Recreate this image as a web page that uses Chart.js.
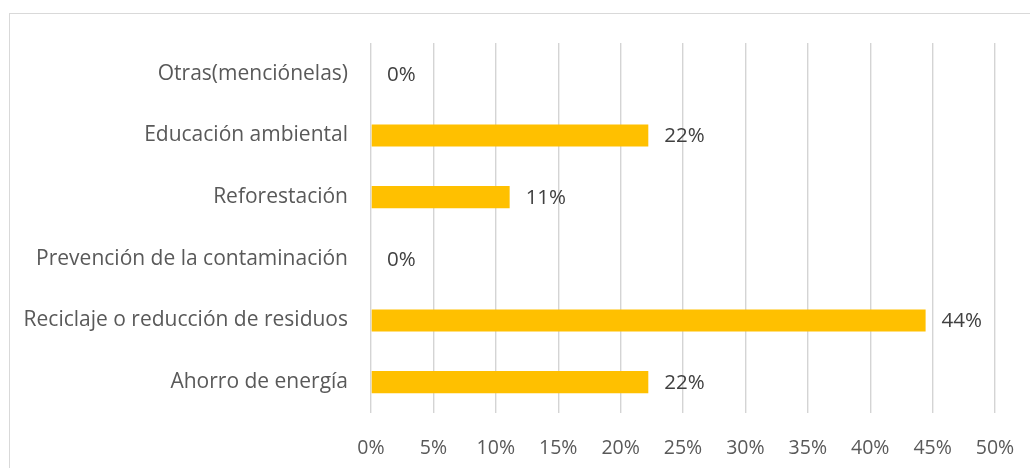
<!DOCTYPE html>
<html>
<head>
<meta charset="utf-8">
<script src="https://cdn.jsdelivr.net/npm/chart.js@4"></script>
<style>
    html, body { margin: 0; padding: 0; overflow: hidden; background: #fff; }
    #frame {
        position: absolute; left: 9px; top: 13px;
        width: 1100px; height: 500px;
        border: 1px solid #d9d9d9;
    }
    #wrap { position: absolute; left: 0; top: 0; width: 1030px; height: 468px; }
</style>
</head>
<body>
<div id="frame"></div>
<div id="wrap"><canvas id="chart"></canvas></div>
<script>
// 类别（自上而下）
const categories = [
    'Otras(menciónelas)',
    'Educación ambiental',
    'Reforestación',
    'Prevención de la contaminación',
    'Reciclaje o reducción de residuos',
    'Ahorro de energía'
];
// 比例值
const values = [0, 0.2222, 0.1111, 0, 0.4444, 0.2222];
// 横轴刻度
const xTicks = [0, 0.05, 0.10, 0.15, 0.20, 0.25, 0.30, 0.35, 0.40, 0.45, 0.50];

const FONT = '"Open Sans", "Liberation Sans", sans-serif';

// 数据标签插件
const barLabels = {
    id: 'barLabels',
    afterDatasetsDraw(chart) {
        const ctx = chart.ctx;
        const meta = chart.getDatasetMeta(0);
        ctx.save();
        ctx.font = '20.5px ' + FONT;
        ctx.fillStyle = '#404040';
        ctx.textAlign = 'left';
        ctx.textBaseline = 'middle';
        meta.data.forEach(function(bar, i) {
            ctx.fillText(Math.round(values[i] * 100) + '%', bar.x + 16, bar.y + 1);
        });
        ctx.restore();
    }
};

new Chart(document.getElementById('chart'), {
    type: 'bar',
    data: {
        labels: categories,
        datasets: [{
            data: values,
            backgroundColor: '#FFC000',
            borderWidth: 0,
            categoryPercentage: 1,
            barPercentage: 0.36
        }]
    },
    plugins: [barLabels],
    options: {
        indexAxis: 'y',
        responsive: true,
        maintainAspectRatio: false,
        animation: false,
        layout: { padding: { top: 43, right: 35, left: 0, bottom: 0 } },
        plugins: {
            legend: { display: false },
            tooltip: { enabled: false }
        },
        scales: {
            x: {
                min: 0,
                max: 0.5,
                afterBuildTicks: function(scale) {
                    scale.ticks = xTicks.map(function(v) { return { value: v }; });
                },
                afterFit: function(scale) {
                    scale.height = 55;
                    scale.paddingLeft = 0;
                    scale.paddingRight = 0;
                },
                grid: { color: '#d4d4d4', lineWidth: 1.4, drawTicks: false },
                border: { display: false },
                ticks: {
                    padding: 24,
                    color: '#595959',
                    font: { family: FONT, size: 19.5 },
                    callback: function(value) { return Math.round(value * 100) + '%'; }
                }
            },
            y: {
                afterFit: function(scale) {
                    scale.width = 371;
                    scale.paddingTop = 0;
                    scale.paddingBottom = 0;
                },
                grid: { display: false },
                border: { display: false },
                ticks: {
                    padding: 15,
                    color: '#595959',
                    font: { family: FONT, size: 21 }
                }
            }
        }
    }
});
</script>
</body>
</html>
